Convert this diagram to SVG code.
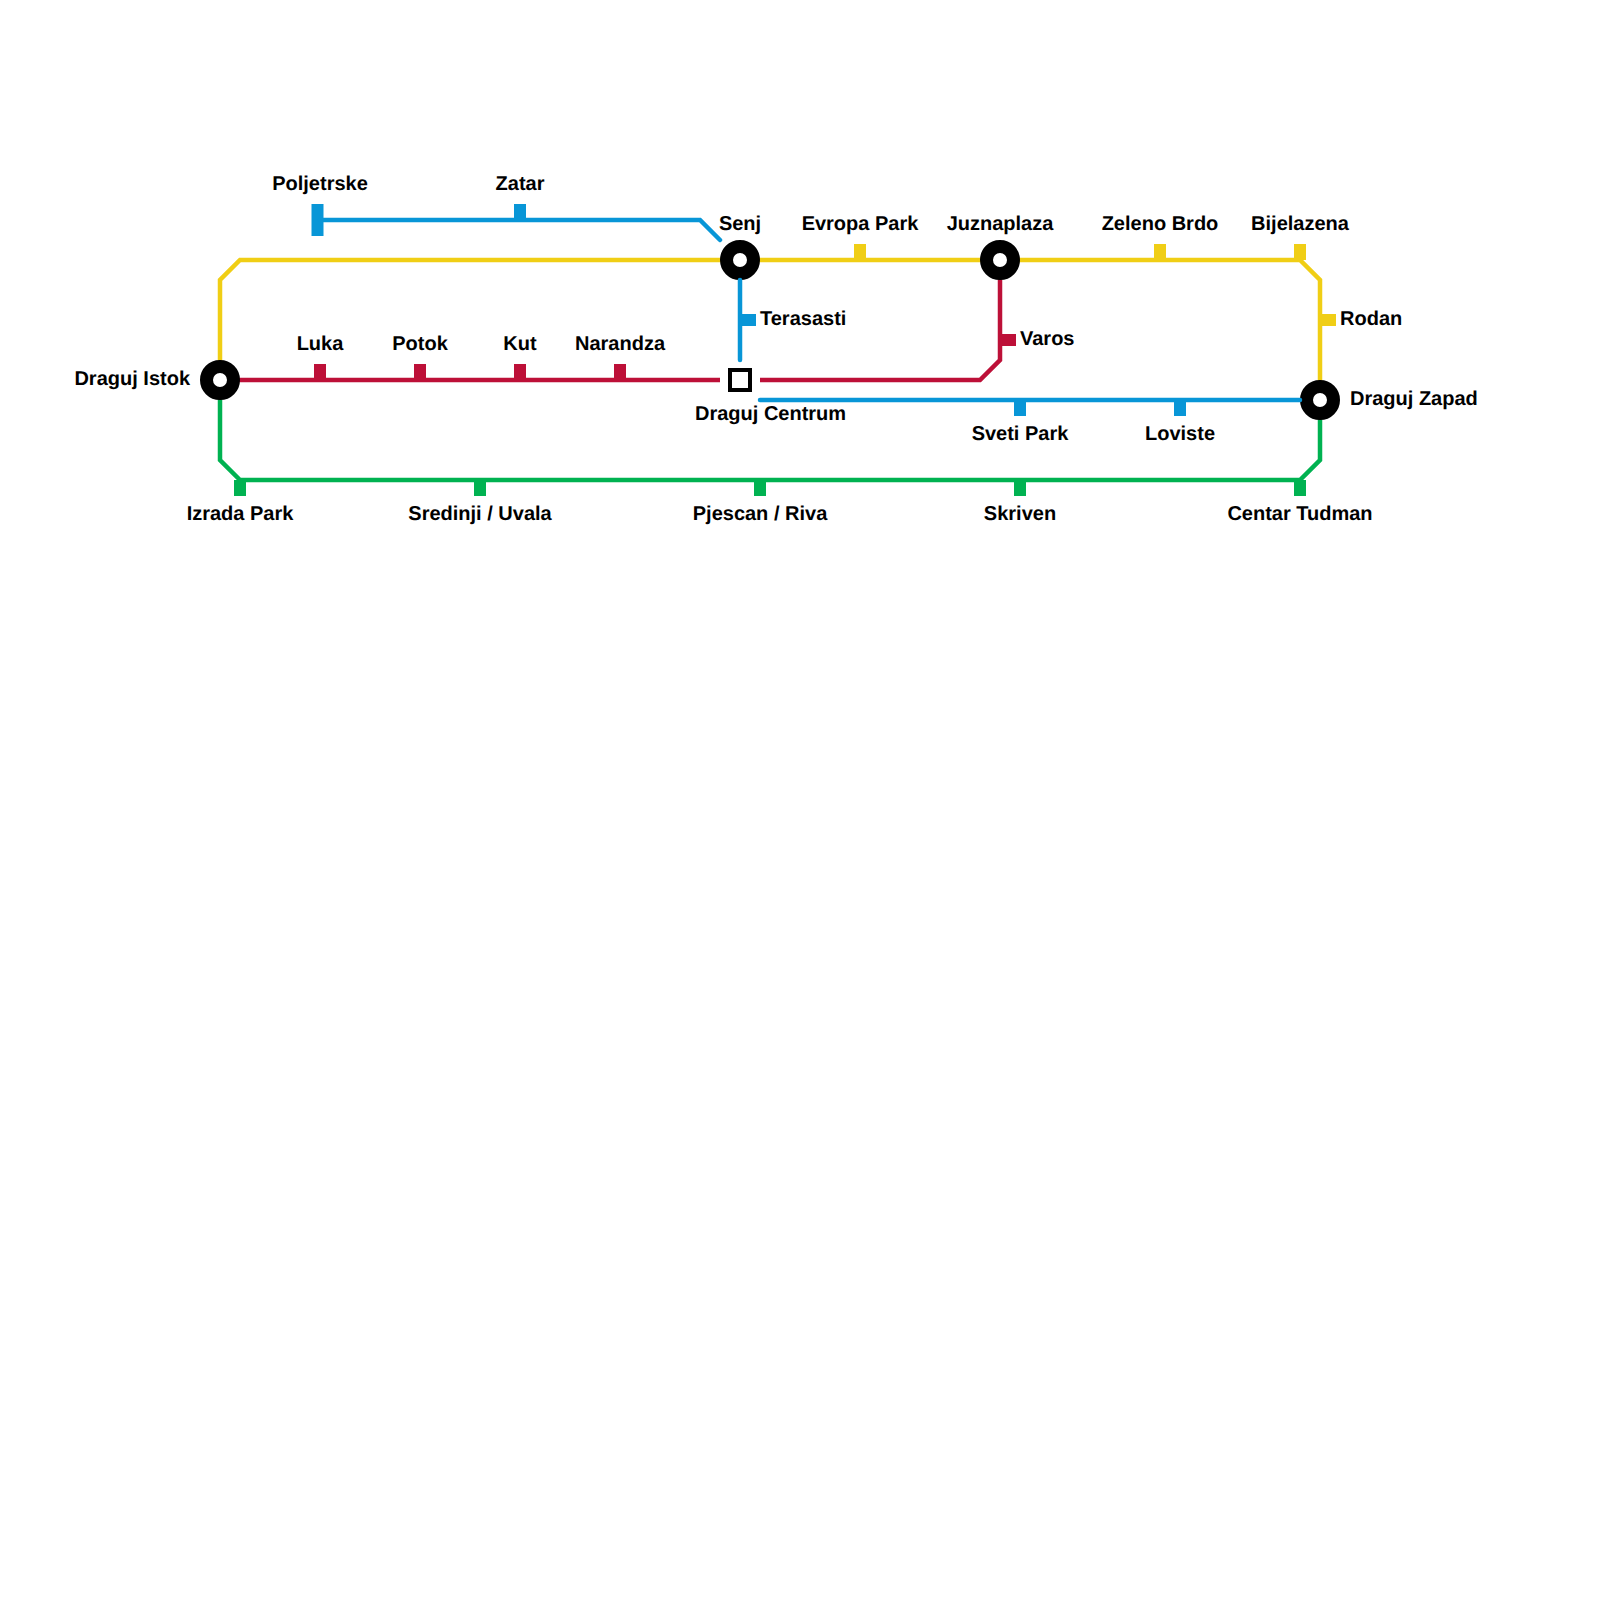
<svg xmlns="http://www.w3.org/2000/svg" width="1600" height="1600" viewBox="0 0 1600 1600">
<style>
.l{fill:none;stroke-width:4.5;stroke-linejoin:miter}
.r{stroke-linecap:round}
.y{stroke:#f0ce15}.rd{stroke:#bd1038}.g{stroke:#00b251}.b{stroke:#0896d7}
.fy{fill:#f0ce15}.frd{fill:#bd1038}.fg{fill:#00b251}.fb{fill:#0896d7}
.st{fill:#fff;stroke:#000;stroke-width:13}
text{font-family:"Liberation Sans",Arial,sans-serif;font-weight:700;font-size:20px;fill:#000;text-rendering:geometricPrecision}
.m{text-anchor:middle}.e{text-anchor:end}
</style>
<rect width="1600" height="1600" fill="#fff"/>
<g id="connectors">
<path class="l y" d="M740 260H240L220 280V380"/>
<path class="l y" d="M740 260H1300L1320 280V400"/>
<path class="l g" d="M220 380V460L240 480H1300L1320 460V400"/>
<path class="l rd" d="M220 380H720"/>
<path class="l rd" d="M760 380H980L1000 360V260"/>
</g>
<g id="ticks">
<rect class="fb" x="311.5" y="204" width="12" height="32"/>
<rect class="fb" x="514" y="204" width="12" height="16"/>
<rect class="fb" x="740" y="314" width="16" height="12"/>
<rect class="fb" x="1014" y="400" width="12" height="16"/>
<rect class="fb" x="1174" y="400" width="12" height="16"/>
<rect class="fy" x="854" y="244" width="12" height="16"/>
<rect class="fy" x="1154" y="244" width="12" height="16"/>
<rect class="fy" x="1294" y="244" width="12" height="16"/>
<rect class="fy" x="1320" y="314" width="16" height="12"/>
<rect class="frd" x="314" y="364" width="12" height="16"/>
<rect class="frd" x="414" y="364" width="12" height="16"/>
<rect class="frd" x="514" y="364" width="12" height="16"/>
<rect class="frd" x="614" y="364" width="12" height="16"/>
<rect class="frd" x="1000" y="334" width="16" height="12"/>
<rect class="fg" x="234" y="480" width="12" height="16"/>
<rect class="fg" x="474" y="480" width="12" height="16"/>
<rect class="fg" x="754" y="480" width="12" height="16"/>
<rect class="fg" x="1014" y="480" width="12" height="16"/>
<rect class="fg" x="1294" y="480" width="12" height="16"/>
</g>
<g id="draguj-istok"><circle class="st" cx="220" cy="380" r="13.5"/><text class="e" x="190" y="385">Draguj Istok</text></g>
<g id="senj"><circle class="st" cx="740" cy="260" r="13.5"/><text class="m" x="740" y="230">Senj</text></g>
<g id="juznaplaza"><circle class="st" cx="1000" cy="260" r="13.5"/><text class="m" x="1000" y="230">Juznaplaza</text></g>
<g id="draguj-zapad"><circle class="st" cx="1320" cy="400" r="13.5"/><text x="1350" y="405">Draguj Zapad</text></g>
<g id="draguj-centrum"><rect x="730" y="370" width="20" height="20" fill="#fff" stroke="#000" stroke-width="4"/><text x="695" y="420">Draguj Centrum</text></g>
<g id="blue-line">
<path class="l b r" d="M320 220H700L720 240"/>
<path class="l b r" d="M740 280V360"/>
<path class="l b r" d="M760 400H1300"/>
</g>
<g id="poljetrske"><text class="m" x="320" y="190">Poljetrske</text></g>
<g id="zatar"><text class="m" x="520" y="190">Zatar</text></g>
<g id="terasasti"><text x="760" y="325">Terasasti</text></g>
<g id="sveti-park"><text class="m" x="1020" y="440">Sveti Park</text></g>
<g id="loviste"><text class="m" x="1180" y="440">Loviste</text></g>
<g id="evropa-park"><text class="m" x="860" y="230">Evropa Park</text></g>
<g id="zeleno-brdo"><text class="m" x="1160" y="230">Zeleno Brdo</text></g>
<g id="bijelazena"><text class="m" x="1300" y="230">Bijelazena</text></g>
<g id="rodan"><text x="1340" y="325">Rodan</text></g>
<g id="luka"><text class="m" x="320" y="350">Luka</text></g>
<g id="potok"><text class="m" x="420" y="350">Potok</text></g>
<g id="kut"><text class="m" x="520" y="350">Kut</text></g>
<g id="narandza"><text class="m" x="620" y="350">Narandza</text></g>
<g id="varos"><text x="1020" y="345">Varos</text></g>
<g id="izrada-park"><text class="m" x="240" y="520">Izrada Park</text></g>
<g id="sredinji-uvala"><text class="m" x="480" y="520">Sredinji / Uvala</text></g>
<g id="pjescan-riva"><text class="m" x="760" y="520">Pjescan / Riva</text></g>
<g id="skriven"><text class="m" x="1020" y="520">Skriven</text></g>
<g id="centar-tudman"><text class="m" x="1300" y="520">Centar Tudman</text></g>
</svg>
